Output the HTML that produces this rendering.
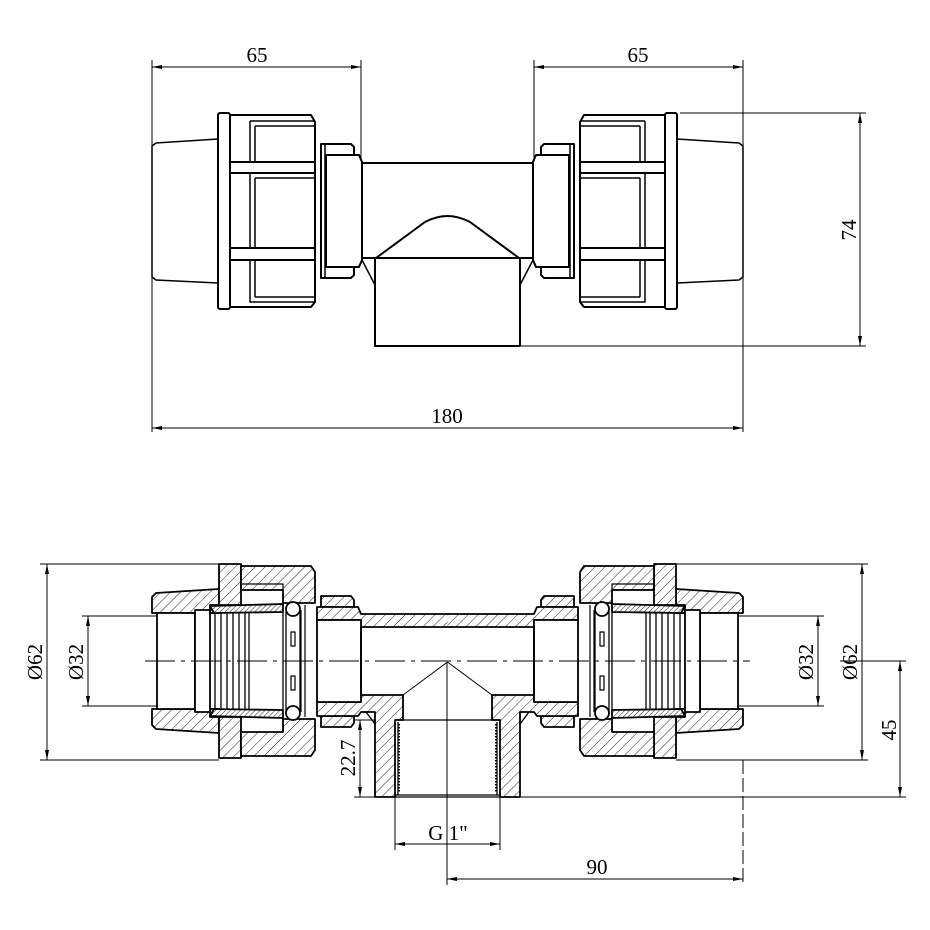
<!DOCTYPE html>
<html><head><meta charset="utf-8"><style>html,body{margin:0;padding:0;background:#fff}svg{display:block}</style></head>
<body>
<svg width="930" height="930" viewBox="0 0 930 930" xmlns="http://www.w3.org/2000/svg">
<defs>
<pattern id="h" patternUnits="userSpaceOnUse" width="7" height="7" patternTransform="rotate(45)">
<rect width="7" height="7" fill="#fff"/><line x1="0" y1="0" x2="0" y2="7" stroke="#222" stroke-width="1"/></pattern>
<pattern id="h2" patternUnits="userSpaceOnUse" width="7" height="7" patternTransform="rotate(-45)">
<rect width="7" height="7" fill="#fff"/><line x1="0" y1="0" x2="0" y2="7" stroke="#222" stroke-width="1"/></pattern>
<pattern id="hd" patternUnits="userSpaceOnUse" width="3.5" height="3.5" patternTransform="rotate(45)">
<rect width="4" height="4" fill="#fff"/><line x1="0" y1="0" x2="0" y2="4" stroke="#222" stroke-width="1"/></pattern>
<pattern id="hd2" patternUnits="userSpaceOnUse" width="3.5" height="3.5" patternTransform="rotate(-45)">
<rect width="4" height="4" fill="#fff"/><line x1="0" y1="0" x2="0" y2="4" stroke="#222" stroke-width="1"/></pattern>
<clipPath id="c"><rect x="0" y="0" width="447.5" height="930"/></clipPath>
<marker id="a" viewBox="0 0 10 4" refX="10" refY="2" markerWidth="10" markerHeight="4" orient="auto-start-reverse" markerUnits="userSpaceOnUse"><path d="M0,0L10,2L0,4z" fill="#000"/></marker>
<g id="topL" fill="#fff" stroke="#000" stroke-width="2" stroke-linejoin="round" clip-path="url(#c)">
<path d="M152,146 L156,143 L218,139 L218,283 L156,280 L152,277 Z" stroke-width="1.5"/>
<rect x="218" y="113" width="12" height="196" rx="2"/>
<path d="M230,115 L311,115 L315,122 L315,302 L311,307 L230,307 Z"/>
<rect x="230" y="162" width="85" height="11"/>
<rect x="230" y="248" width="85" height="12"/>
<path d="M250,121 L315,121 M250,121 L250,162 M255,126 L315,126 M250,173 L250,248 M255,178 L315,178 M255,178 L255,248 M250,260 L250,302 L315,302 M255,297 L315,297 M255,126 L255,162 M255,260 L255,297" fill="none" stroke-width="1.5"/>
<path d="M321,144 L351,144 L354,147 L354,275 L351,278 L321,278 Z"/>
<path d="M325,144 L325,278" fill="none" stroke-width="1.5"/>
<path d="M326,155 L359,155 L362,162 L362,260 L359,267 L326,267 Z"/>
<rect x="362" y="163" width="90" height="95"/>
<path d="M362,260 L375,285" fill="none" stroke-width="1.5"/>
<path d="M376,258 L425,222 Q448,210 471,222" fill="none"/>
<rect x="375" y="258" width="90" height="88"/>
</g>
<g id="botL" stroke="#000" stroke-width="1.8" stroke-linejoin="round" clip-path="url(#c)">
<path d="M152,597 L156,593 L219,589 L219,613 L152,613 Z" style="fill:var(--h)"/>
<path d="M152,725 L156,729 L219,733 L219,709 L152,709 Z" style="fill:var(--h)"/>
<path d="M219,564 L241,564 L241,605 L210,605 L210,613 L219,613 Z" style="fill:var(--h)"/>
<path d="M219,758 L241,758 L241,717 L210,717 L210,709 L219,709 Z" style="fill:var(--h)"/>
<path d="M241,566 L311,566 L315,572 L315,603 L283,603 L283,590 L241,590 Z" style="fill:var(--h)"/>
<path d="M241,756 L311,756 L315,750 L315,719 L283,719 L283,732 L241,732 Z" style="fill:var(--h)"/>
<rect x="241" y="584" width="42" height="6" fill="none" stroke-width="1.2"/>
<path d="M210,606 L283,604 L283,612 L214,613 Z" style="fill:var(--hd)"/>
<path d="M210,716 L283,718 L283,710 L214,709 Z" style="fill:var(--hd)"/>
<rect x="157" y="613" width="38" height="96" fill="#fff"/>
<rect x="195" y="610" width="15" height="102" fill="#fff"/>
<path d="M215,613 V709 M221,613 V709 M227,613 V709 M233,613 V709 M239,613 V709 M245,613 V709 M249,613 V709 M283,612 V710" fill="none" stroke-width="1.3"/>
<rect x="286" y="610" width="14" height="102" fill="#fff" stroke-width="1.3"/>
<circle cx="293" cy="609" r="7" fill="#fff"/>
<circle cx="293" cy="713" r="7" fill="#fff"/>
<rect x="291" y="632" width="4" height="14" fill="#fff" stroke-width="1.2"/>
<rect x="291" y="676" width="4" height="14" fill="#fff" stroke-width="1.2"/>
<path d="M301,610 V712 M305,605 V717" fill="none" stroke-width="1.2"/>
<path d="M321,596 L351,596 L354,600 L354,607 L321,607 Z" style="fill:var(--h)"/>
<path d="M321,727 L351,727 L354,723 L354,716 L321,716 Z" style="fill:var(--h)"/>
<path d="M317,607 L358,607 L361,614 L460,614 L460,627 L361,627 L361,620 L317,620 Z" style="fill:var(--h)"/>
<path d="M317,702 L361,702 L361,695 L403,695 L403,720 L395,720 L395,797 L375,797 L375,712 L361,712 L358,716 L317,716 Z" style="fill:var(--h)"/>
<rect x="317" y="620" width="44" height="82" fill="#fff"/>
<path d="M361,627 V695" fill="none"/>
<path d="M362,712 L366,712 L375,724" fill="none" stroke-width="1.3"/>
<path d="M395,720 L460,720 M395,797 L460,797 M398,722 V795 M395,795 L460,795" fill="none" stroke-width="1.3"/>
<path d="M399,724 V793" fill="none" stroke-width="2" stroke-dasharray="1.5,1.5"/>
<path d="M403,695 L447.5,662" fill="none" stroke-width="1"/>
</g>
</defs>

<use href="#topL"/>
<use href="#topL" transform="matrix(-1 0 0 1 895 0)"/>
<use href="#botL" style="--h:url(#h);--hd:url(#hd)"/>
<use href="#botL" transform="matrix(-1 0 0 1 895 0)" style="--h:url(#h2);--hd:url(#hd2)"/>

<g stroke="#000" stroke-width="1" fill="none">
<line x1="145" y1="661" x2="750" y2="661" stroke-dasharray="30,6,4,6"/>
<line x1="447" y1="662" x2="447" y2="885"/>
<line x1="152" y1="60" x2="152" y2="432"/>
<line x1="361" y1="60" x2="361" y2="160"/>
<line x1="534" y1="60" x2="534" y2="160"/>
<line x1="743" y1="60" x2="743" y2="432"/>
<line x1="152" y1="67" x2="361" y2="67" marker-start="url(#a)" marker-end="url(#a)"/>
<line x1="534" y1="67" x2="743" y2="67" marker-start="url(#a)" marker-end="url(#a)"/>
<line x1="152" y1="428" x2="743" y2="428" marker-start="url(#a)" marker-end="url(#a)"/>
<line x1="680" y1="113" x2="866" y2="113"/>
<line x1="521" y1="346" x2="866" y2="346"/>
<line x1="860" y1="113" x2="860" y2="346" marker-start="url(#a)" marker-end="url(#a)"/>
<line x1="40" y1="564" x2="219" y2="564"/>
<line x1="40" y1="760" x2="219" y2="760"/>
<line x1="47" y1="564" x2="47" y2="760" marker-start="url(#a)" marker-end="url(#a)"/>
<line x1="82" y1="616" x2="157" y2="616"/>
<line x1="82" y1="706" x2="157" y2="706"/>
<line x1="88" y1="616" x2="88" y2="706" marker-start="url(#a)" marker-end="url(#a)"/>
<line x1="676" y1="564" x2="868" y2="564"/>
<line x1="676" y1="760" x2="868" y2="760"/>
<line x1="862" y1="564" x2="862" y2="760" marker-start="url(#a)" marker-end="url(#a)"/>
<line x1="738" y1="616" x2="824" y2="616"/>
<line x1="738" y1="706" x2="824" y2="706"/>
<line x1="818" y1="616" x2="818" y2="706" marker-start="url(#a)" marker-end="url(#a)"/>
<line x1="840" y1="661" x2="906" y2="661"/>
<line x1="521" y1="797" x2="906" y2="797"/>
<line x1="900" y1="661" x2="900" y2="797" marker-start="url(#a)" marker-end="url(#a)"/>
<line x1="354" y1="720" x2="375" y2="720"/>
<line x1="354" y1="797" x2="375" y2="797"/>
<line x1="360" y1="720" x2="360" y2="797" marker-start="url(#a)" marker-end="url(#a)"/>
<line x1="395" y1="797" x2="395" y2="850"/>
<line x1="500" y1="797" x2="500" y2="850"/>
<line x1="395" y1="844" x2="500" y2="844" marker-start="url(#a)" marker-end="url(#a)"/>
<line x1="743" y1="760" x2="743" y2="885" stroke-dasharray="14,4"/>
<line x1="447" y1="879" x2="743" y2="879" marker-start="url(#a)" marker-end="url(#a)"/>
</g>
<g font-family="'Liberation Serif', serif" font-size="21" fill="#000" text-anchor="middle">
<text x="257" y="62">65</text>
<text x="638" y="62">65</text>
<text x="447" y="423">180</text>
<text transform="translate(856,230) rotate(-90)">74</text>
<text transform="translate(42,662) rotate(-90)">Ø62</text>
<text transform="translate(83,662) rotate(-90)">Ø32</text>
<text transform="translate(813,662) rotate(-90)">Ø32</text>
<text transform="translate(857,662) rotate(-90)">Ø62</text>
<text transform="translate(896,730) rotate(-90)">45</text>
<text transform="translate(355,758) rotate(-90)">22.7</text>
<text x="448" y="840">G 1"</text>
<text x="597" y="874">90</text>
</g>
</svg>
</body></html>
